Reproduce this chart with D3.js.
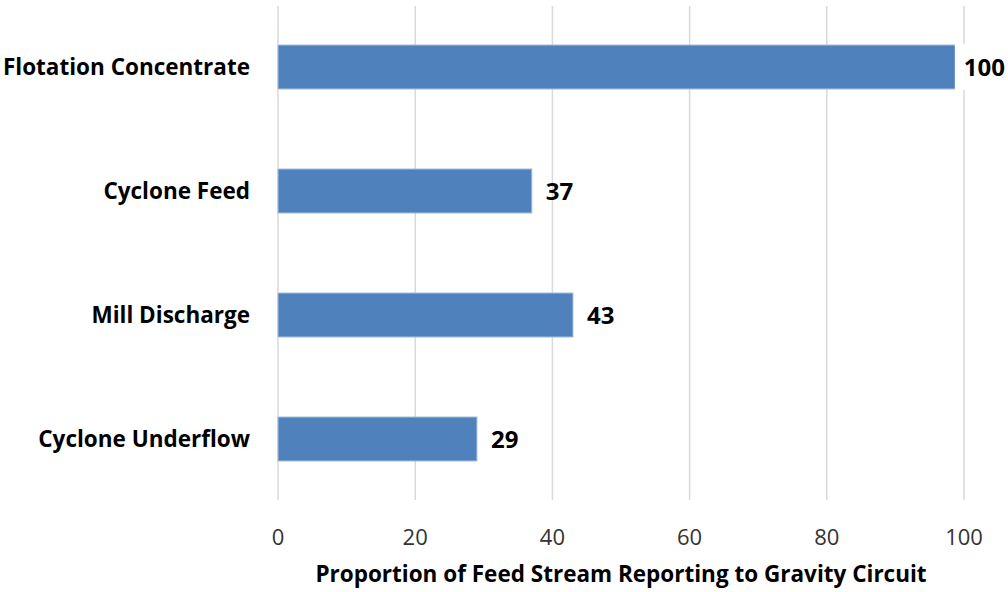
<!DOCTYPE html>
<html>
<head>
<meta charset="utf-8">
<script src="https://cdn.jsdelivr.net/npm/d3@7"></script>
<style>
  html, body { margin: 0; padding: 0; background: #fff; }
  svg { display: block; font-family: "Open Sans", "Noto Sans", sans-serif; }
</style>
</head>
<body>
<svg id="chart" width="1008" height="592"></svg>
<script>
// Gravity circuit feed proportions by stream
const categories = ["Flotation Concentrate", "Cyclone Feed", "Mill Discharge", "Cyclone Underflow"];
const values = [100, 37, 43, 29];
const xTicks = [0, 20, 40, 60, 80, 100];
const xTitle = "Proportion of Feed Stream Reporting to Gravity Circuit";

const W = 1008, H = 592;
const svg = d3.select("#chart");

const x = d3.scaleLinear().domain([0, 100]).range([278, 964]);
const y = d3.scaleBand().domain(categories).range([5, 501])
  .paddingInner(0.645).paddingOuter(0.3225);

// vertical gridlines
svg.append("g").selectAll("line").data(xTicks).join("line")
  .attr("x1", d => x(d)).attr("x2", d => x(d))
  .attr("y1", 6).attr("y2", 500)
  .attr("stroke", "#d9d9d9").attr("stroke-width", 1.5);

// bars
svg.append("g").selectAll("rect").data(values).join("rect")
  .attr("x", x(0))
  .attr("y", (d, i) => y(categories[i]))
  .attr("width", d => x(d) - x(0))
  .attr("height", y.bandwidth())
  .attr("fill", "#4f81bd")
  .attr("stroke", "#a7bfde").attr("stroke-width", 1);

// x tick labels
svg.append("g").selectAll("text").data(xTicks).join("text")
  .attr("x", d => x(d)).attr("y", 545)
  .attr("text-anchor", "middle")
  .attr("font-size", 22).attr("fill", "#333")
  .text(d => d);

// category labels
svg.append("g").selectAll("text").data(categories).join("text")
  .attr("x", 250)
  .attr("y", d => y(d) + y.bandwidth() / 2)
  .attr("dy", "0.36em")
  .attr("text-anchor", "end")
  .attr("font-size", 22.5).attr("font-weight", "bold").attr("fill", "#000")
  .text(d => d);

// value labels, shifted inside the plot with a white backing when they run out of room
const lab = svg.append("g").selectAll("g").data(values).join("g");
lab.each(function (d, i) {
  const g = d3.select(this);
  const cy = y(categories[i]) + y.bandwidth() / 2;
  const t = g.append("text")
    .attr("y", cy).attr("dy", "0.36em")
    .attr("font-size", 24).attr("font-weight", "bold").attr("fill", "#000")
    .text(d);
  const tw = t.node().getComputedTextLength();
  let tx = x(d) + 14;
  if (tx + tw > W - 3) {
    tx = W - 3 - tw;
    g.insert("rect", "text")
      .attr("x", tx - 9).attr("y", y(categories[i]) - 1)
      .attr("width", tw + 12).attr("height", y.bandwidth() + 2)
      .attr("fill", "#fff");
  }
  t.attr("x", tx);
});

// axis title
svg.append("text")
  .attr("x", 621).attr("y", 582)
  .attr("text-anchor", "middle")
  .attr("font-size", 22.5).attr("font-weight", "bold").attr("fill", "#000")
  .text(xTitle);
</script>
</body>
</html>
